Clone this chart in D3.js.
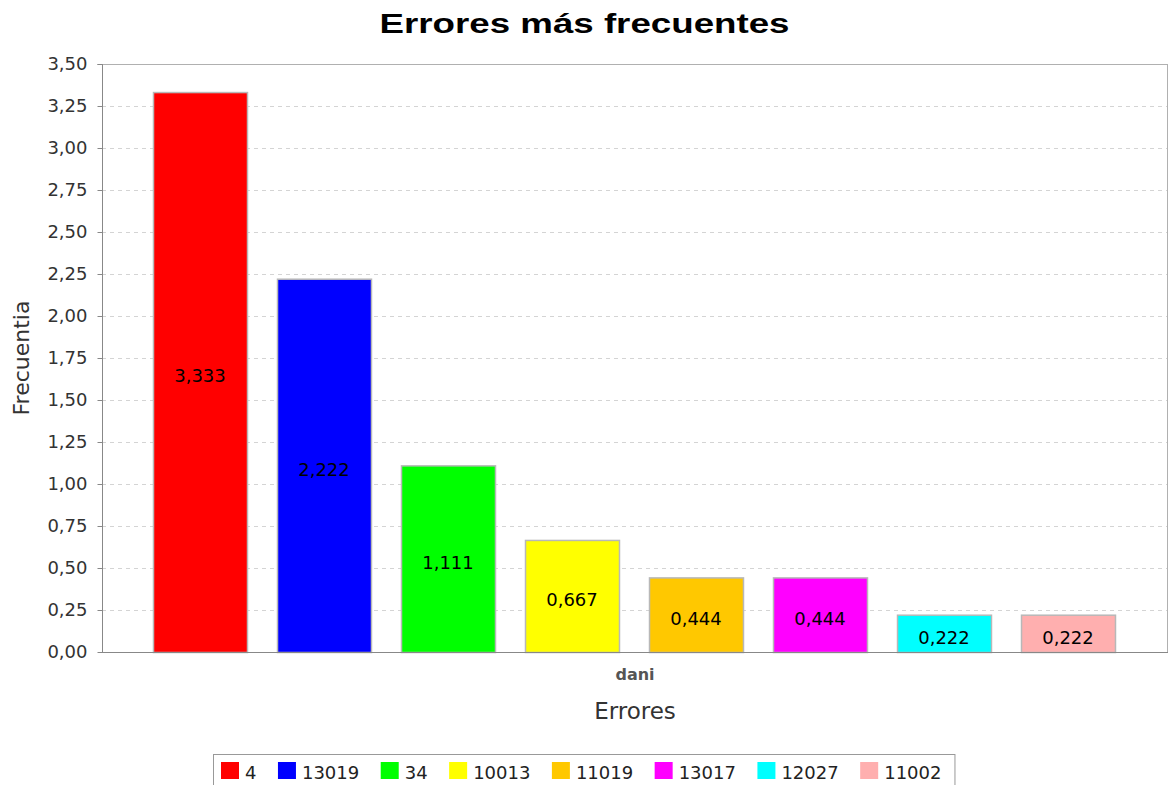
<!DOCTYPE html>
<html>
<head>
<meta charset="utf-8">
<script src="https://cdn.jsdelivr.net/npm/d3@7"></script>
<style>
  html, body { margin: 0; padding: 0; background: #ffffff; }
  svg { display: block; }
</style>
</head>
<body>
<svg id="chart" width="1169" height="785"></svg>
<script>
// Error codes and their frequency for series "dani"
const categories = ["4", "13019", "34", "10013", "11019", "13017", "12027", "11002"];
const values = [3.333, 2.222, 1.111, 0.667, 0.444, 0.444, 0.222, 0.222];
const colors = ["#ff0000", "#0000ff", "#00ff00", "#ffff00", "#ffc800", "#ff00ff", "#00ffff", "#ffafaf"];
const yTicks = [0, 0.25, 0.5, 0.75, 1, 1.25, 1.5, 1.75, 2, 2.25, 2.5, 2.75, 3, 3.25, 3.5];
const groupLabel = "dani";

const svg = d3.select("#chart");
const W = 1169, H = 785;
const plot = { left: 102, right: 1168, top: 64, bottom: 652 };
const fmt = v => d3.format(".2f")(v).replace(".", ",");
const fmtVal = v => d3.format(".3f")(v).replace(".", ",");
const font = "'DejaVu Sans', sans-serif";

// Bars occupy the inner part of the plot, leaving a margin at each side
const x = d3.scaleBand()
  .domain(categories)
  .range([plot.left + 36, plot.right - 38])
  .paddingInner(0.242)
  .paddingOuter(0.121);

const y = d3.scaleLinear().domain([0, 3.5]).range([plot.bottom, plot.top]);

// Title
svg.append("text")
  .attr("x", W / 2).attr("y", 33)
  .attr("text-anchor", "middle")
  .attr("font-family", "'Liberation Sans', Arial, sans-serif")
  .attr("font-weight", "bold")
  .attr("font-size", 28)
  .attr("textLength", 410)
  .attr("lengthAdjust", "spacingAndGlyphs")
  .attr("fill", "#000")
  .text("Errores más frecuentes");

// Grid lines
svg.append("g")
  .selectAll("line")
  .data(yTicks.filter(t => t > 0))
  .join("line")
  .attr("x1", plot.left).attr("x2", plot.right)
  .attr("y1", d => Math.round(y(d)) + 0.5).attr("y2", d => Math.round(y(d)) + 0.5)
  .attr("stroke", "#d4d4d4")
  .attr("stroke-dasharray", "4,4");

// Plot outline
svg.append("rect")
  .attr("x", plot.left + 0.5).attr("y", plot.top + 0.5)
  .attr("width", plot.right - plot.left - 1).attr("height", plot.bottom - plot.top)
  .attr("fill", "none")
  .attr("stroke", "#b0b0b0");

// Bars
svg.append("g")
  .selectAll("rect")
  .data(values)
  .join("rect")
  .attr("x", (d, i) => x(categories[i]) + 0.5)
  .attr("y", d => y(d) + 0.5)
  .attr("width", x.bandwidth())
  .attr("height", d => y(0) - y(d))
  .attr("fill", (d, i) => colors[i])
  .attr("stroke", "#b8b8b8")
  .attr("stroke-width", 1.5);

// Value labels centred in each bar
svg.append("g")
  .selectAll("text")
  .data(values)
  .join("text")
  .attr("x", (d, i) => x(categories[i]) + x.bandwidth() / 2)
  .attr("y", d => (y(d) + y(0)) / 2)
  .attr("dy", "0.58em")
  .attr("text-anchor", "middle")
  .attr("font-family", font)
  .attr("font-size", 18)
  .attr("fill", "#000")
  .text(d => fmtVal(d));

// Y axis
const yAxis = d3.axisLeft(y).tickValues(yTicks).tickFormat(fmt).tickSize(5).tickPadding(10);
const gy = svg.append("g")
  .attr("transform", `translate(${plot.left + 0.5},0)`)
  .call(yAxis);
gy.select(".domain").attr("stroke", "#888").attr("d", `M-5,${plot.top + 0.5}H0V${plot.bottom + 0.5}`);
gy.selectAll(".tick line").attr("stroke", "#888");
gy.selectAll(".tick text")
  .attr("font-family", font)
  .attr("font-size", 18)
  .attr("fill", "#333");

// X axis baseline
svg.append("line")
  .attr("x1", plot.left).attr("x2", plot.right)
  .attr("y1", plot.bottom + 0.5).attr("y2", plot.bottom + 0.5)
  .attr("stroke", "#888");

// Category label
svg.append("text")
  .attr("x", (plot.left + plot.right) / 2).attr("y", 680)
  .attr("text-anchor", "middle")
  .attr("font-family", font)
  .attr("font-weight", "bold")
  .attr("font-size", 16)
  .attr("fill", "#555")
  .text(groupLabel);

// Axis titles
svg.append("text")
  .attr("x", (plot.left + plot.right) / 2).attr("y", 719)
  .attr("text-anchor", "middle")
  .attr("font-family", font)
  .attr("font-size", 23)
  .attr("fill", "#333")
  .text("Errores");

svg.append("text")
  .attr("transform", `translate(29,${(plot.top + plot.bottom) / 2}) rotate(-90)`)
  .attr("text-anchor", "middle")
  .attr("font-family", font)
  .attr("font-size", 22)
  .attr("fill", "#333")
  .text("Frecuentia");

// Legend
const legend = svg.append("g");
const items = legend.selectAll("g")
  .data(categories)
  .join("g");
items.append("rect")
  .attr("width", 18).attr("height", 17)
  .attr("y", 762)
  .attr("fill", (d, i) => colors[i]);
items.append("text")
  .attr("x", 24).attr("y", 779)
  .attr("font-family", font)
  .attr("font-size", 18)
  .attr("fill", "#222")
  .text(d => d);

let cx = 221;
items.each(function () {
  const g = d3.select(this);
  g.attr("transform", `translate(${cx},0)`);
  const tw = g.select("text").node().getComputedTextLength();
  cx += 24 + tw + 21.5;
});
const legendRight = cx - 21.5 + 13;
legend.insert("rect", ":first-child")
  .attr("x", 213.5).attr("y", 754.5)
  .attr("width", legendRight - 213).attr("height", 40)
  .attr("fill", "#fff")
  .attr("stroke", "#999");
</script>
</body>
</html>
